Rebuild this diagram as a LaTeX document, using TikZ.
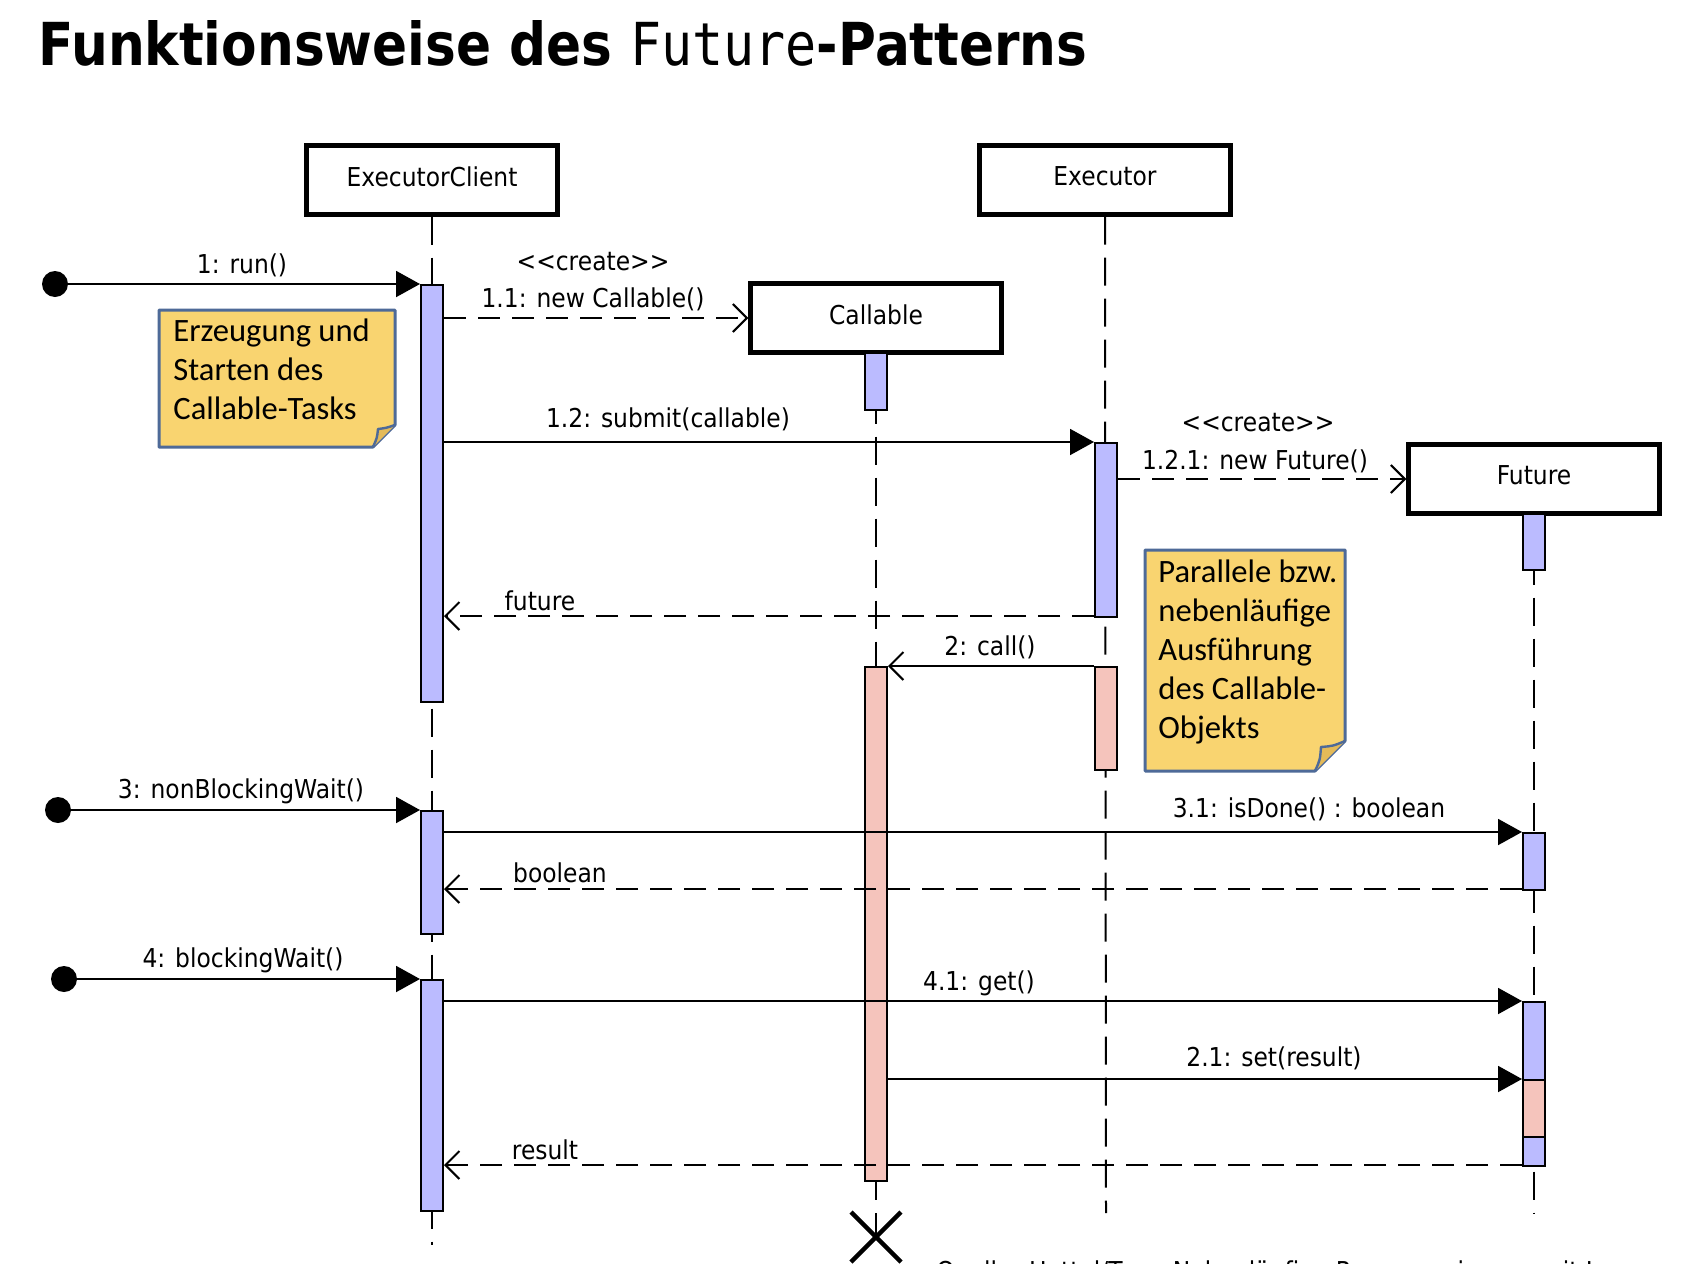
\documentclass[tikz,border=0pt]{standalone}
\usepackage{fontspec}
\setmainfont{DejaVu Sans}
\newfontfamily\labfont[FakeStretch=0.9]{DejaVu Sans}
\newfontfamily\notefont{Carlito}
\newfontfamily\titlefont{DejaVu Sans}
\newfontfamily\titlemono{DejaVu Sans Mono}
\usetikzlibrary{arrows.meta,calc}
\definecolor{actblue}{HTML}{BBBBFF}
\definecolor{actpink}{HTML}{F5C4BC}
\definecolor{noteyel}{HTML}{F9D470}
\definecolor{notefold}{HTML}{E4BA58}
\definecolor{noteedge}{HTML}{4E6A98}
\begin{document}
\begin{tikzpicture}[x=0.5pt,y=-0.5pt,
  lbl/.style={font=\labfont\fontsize{13pt}{15.5pt}\selectfont, inner sep=0pt},
  objbox/.style={draw, line width=2.2pt, minimum width=125.5pt, minimum height=34.5pt, inner sep=0pt, fill=white, font=\labfont\fontsize{13pt}{15.5pt}\selectfont},
  actb/.style={draw, line width=1pt, fill=actblue, minimum width=11pt, inner sep=0pt, anchor=north},
  actp/.style={actb, fill=actpink},
  lifeline/.style={line width=1pt, dash pattern=on 14pt off 6.5pt},
  msg/.style={line width=1pt, -{Triangle[length=12pt,width=13pt]}},
  ret/.style={line width=1pt, dash pattern=on 11pt off 6pt, -{Straight Barb[length=7pt,width=14pt,line width=1pt]}},
  callmsg/.style={line width=1pt, -{Straight Barb[length=7pt,width=14pt,line width=1pt]}},
  startdot/.style={circle, fill=black, minimum size=13pt, inner sep=0pt},
  notebox/.style={draw=noteedge, line width=1.5pt, fill=noteyel, line join=round},
  notefoldst/.style={draw=noteedge, line width=1.2pt, fill=notefold, line join=round},
  notetext/.style={font=\notefont\fontsize{16.3pt}{19.5pt}\selectfont, align=left, inner sep=0pt, anchor=north west},
]
\useasboundingbox (0,0) rectangle (1688,1264);
\clip (0,0) rectangle (1688,1264);
\fill[white] (0,0) rectangle (1688,1264);

% title
\node[anchor=base west, inner sep=0pt] (title) at (38,65)
  {\resizebox{524.5pt}{22.5pt}{\titlefont\bfseries Funktionsweise des {\mdseries\titlemono Future}-Patterns}};

% object boxes
\node[objbox] (client) at (432,180) {\raisebox{3.5pt}{ExecutorClient}};
\node[objbox] (executor) at (1105,180) {\raisebox{3.5pt}{Executor}};
\node[objbox] (callable) at (876,318) {\raisebox{3.5pt}{Callable}};
\node[objbox] (future) at (1534,479) {\raisebox{3.5pt}{Future}};

% lifeline end points
\coordinate (clientEnd) at (432,1245);
\coordinate (executorEnd) at (1106,1213);
\coordinate (callableEnd) at (876,1180);
\coordinate (futureEnd) at (1534,1213);

\draw[lifeline] (client.south) -- (clientEnd);
\draw[lifeline] (executor.south) -- (executorEnd);
\draw[lifeline] (callable.south) -- (callableEnd);
\draw[lifeline] (future.south) -- (futureEnd);

% activation bars
\node[actb, minimum height=208.5pt] (cb1) at (432,284) {};
\node[actb, minimum height=28.5pt] (kb0) at (876,352) {};
\node[actb, minimum height=87pt] (eb1) at (1106,442) {};
\node[actb, minimum height=28pt] (fb0) at (1534,513) {};
\node[actp, minimum height=257pt] (kb1) at (876,666) {};
\node[actp, minimum height=51.5pt] (eb2) at (1106,666) {};
\node[actb, minimum height=61.5pt] (cb2) at (432,810) {};
\node[actb, minimum height=28.5pt] (fb1) at (1534,832) {};
\node[actb, minimum height=115.5pt] (cb3) at (432,979) {};
\node[actb, minimum height=39pt] (fb2) at (1534,1001) {};
\node[actp, minimum height=28.5pt] (fb3) at (1534,1079) {};
\node[actb, minimum height=14.5pt] (fb4) at (1534,1136) {};

% destruction of callable
\coordinate (xc) at (876,1237);
\draw[line width=1pt] (kb1.south) -- (876,1200);
\draw[line width=1pt] (876,1213) -- (xc);
\draw[line width=2.2pt] ($(xc)+(-25,-25)$) -- ($(xc)+(25,25)$);
\draw[line width=2.2pt] ($(xc)+(25,-25)$) -- ($(xc)+(-25,25)$);

% start dots
\node[startdot] (s1) at (55,284) {};
\node[startdot] (s3) at (58,810) {};
\node[startdot] (s4) at (64,979) {};

% message heights
\coordinate (y11) at (0,318);
\coordinate (y12) at (0,442);
\coordinate (y121) at (0,479);
\coordinate (yfut) at (0,616);
\coordinate (y2) at (0,666);
\coordinate (y31) at (0,832);
\coordinate (ybool) at (0,889);
\coordinate (y41) at (0,1001);
\coordinate (y21) at (0,1079);
\coordinate (yres) at (0,1165);

% messages
\draw[msg] (s1.center) -- (cb1.west |- s1);
\draw[ret] (cb1.east |- y11) -- (callable.west |- y11);
\draw[msg] (cb1.east |- y12) -- (eb1.west |- y12);
\draw[ret] (eb1.east |- y121) -- (future.west |- y121);
\draw[ret] (eb1.west |- yfut) -- (cb1.east |- yfut);
\draw[callmsg] (eb2.west |- y2) -- (kb1.east |- y2);
\draw[msg] (s3.center) -- (cb2.west |- s3);
\draw[msg] (cb2.east |- y31) -- (fb1.west |- y31);
\draw[ret] (fb1.west |- ybool) -- (cb2.east |- ybool);
\draw[msg] (s4.center) -- (cb3.west |- s4);
\draw[msg] (cb3.east |- y41) -- (fb2.west |- y41);
\draw[msg] (kb1.east |- y21) -- (fb3.west |- y21);
\draw[ret] (fb4.west |- yres) -- (cb3.east |- yres);

% labels
\node[lbl] (l1) at (242,265) {1: run()};
\node[lbl] (l11a) at (593,262) {<<create>>};
\node[lbl] (l11) at (593,299) {1.1: new Callable()};
\node[lbl] (l12) at (668,419) {1.2: submit(callable)};
\node[lbl] (l121a) at (1258,423) {<<create>>};
\node[lbl] (l121) at (1255,461) {1.2.1: new Future()};
\node[lbl] (lfut) at (540,601) {future};
\node[lbl] (l2) at (990,647) {2: call()};
\node[lbl] (l3) at (241,791) {3: nonBlockingWait()};
\node[lbl] (l31) at (1309,809) {3.1: isDone() : boolean};
\node[lbl] (lbool) at (560,873) {boolean};
\node[lbl] (l4) at (243,960) {4: blockingWait()};
\node[lbl] (l41) at (979,983) {4.1: get()};
\node[lbl] (l21) at (1274,1058) {2.1: set(result)};
\node[lbl] (lres) at (545,1150) {result};

% note 1
\draw[notebox] (159,310) -- (395,310) -- (395,425) -- (373,447) -- (159,447) -- cycle;
\draw[notefoldst] (373,447) .. controls (377,438) .. (378,429) .. controls (386,428) .. (395,425);
\node[notetext] (n1) at (173,318) {Erzeugung und\\Starten des\\Callable-Tasks};

% note 2
\draw[notebox] (1145,550) -- (1345,550) -- (1345,741) -- (1315,771) -- (1145,771) -- cycle;
\draw[notefoldst] (1315,771) .. controls (1320,760) .. (1321,747) .. controls (1333,746) .. (1345,741);
\node[notetext] (n2) at (1158,559) {Parallele bzw.\\nebenläufige\\Ausführung\\des Callable-\\Objekts};

% source (cut off at the lower edge, as in the reference)
\node[lbl, anchor=base west] (src) at (936,1280) {Quelle: Hettel/Tran, Nebenläufige Programmierung mit Java};
\end{tikzpicture}
\end{document}
